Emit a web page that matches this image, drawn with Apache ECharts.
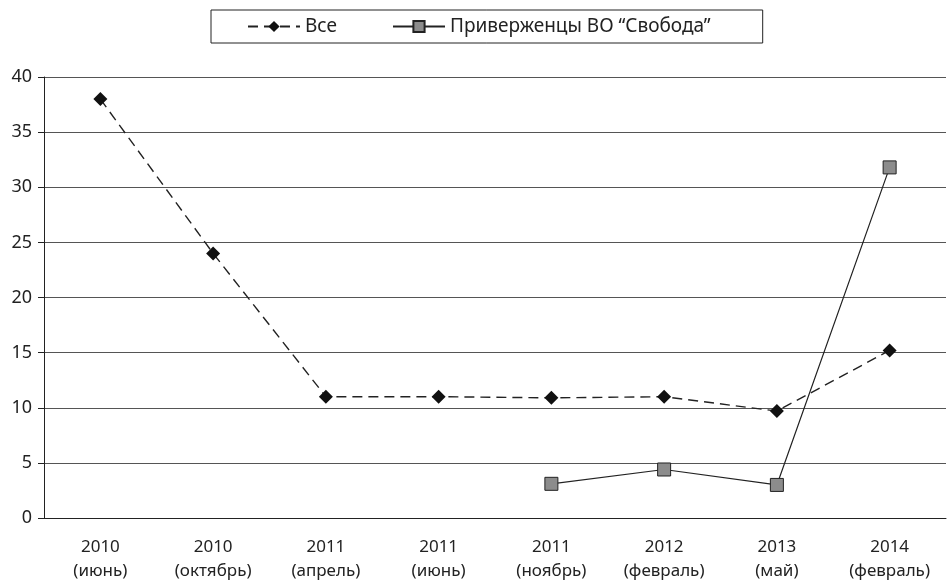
<!DOCTYPE html>
<html>
<head>
<meta charset="utf-8">
<script src="https://cdn.jsdelivr.net/npm/echarts@6/dist/echarts.min.js"></script>
<style>
  html, body { margin: 0; padding: 0; background: #fff; }
  #chart { width: 949px; height: 584px; }
</style>
</head>
<body>
<div id="chart"></div>
<script>
const categories = [
  '2010\n(июнь)', '2010\n(октябрь)', '2011\n(апрель)', '2011\n(июнь)',
  '2011\n(ноябрь)', '2012\n(февраль)', '2013\n(май)', '2014\n(февраль)'
];
const allValues = [38, 24, 11, 11, 10.9, 11, 9.7, 15.2];
const svobodaValues = [null, null, null, null, 3.1, 4.4, 3.0, 31.8];

const font = 'Noto Sans';
const chart = echarts.init(document.getElementById('chart'));

chart.setOption({
  animation: false,
  textStyle: { fontFamily: font, color: '#222' },
  legend: {
    top: 10,
    left: 211,
    padding: [7, 52, 7, 36],
    itemGap: 55,
    itemWidth: 52,
    itemHeight: 14,
    borderColor: '#222',
    borderWidth: 1,
    textStyle: { fontFamily: font, fontSize: 19, color: '#222' },
    data: ['Все', 'Приверженцы ВО “Свобода”']
  },
  grid: { left: 44, right: 3, top: 77, bottom: 66, containLabel: false },
  xAxis: {
    type: 'category',
    data: categories,
    boundaryGap: true,
    axisLine: { lineStyle: { color: '#222', width: 1 } },
    axisTick: { length: 6, lineStyle: { color: '#222' } },
    axisLabel: { fontFamily: font, fontSize: 17, color: '#222', lineHeight: 24, margin: 17 }
  },
  yAxis: {
    type: 'value',
    min: 0,
    max: 40,
    interval: 5,
    axisLine: { show: true, lineStyle: { color: '#222', width: 1 } },
    axisTick: { show: true, length: 6, lineStyle: { color: '#222' } },
    axisLabel: { fontFamily: font, fontSize: 18, color: '#222', margin: 12 },
    splitLine: { lineStyle: { color: '#555', width: 1 } }
  },
  series: [
    {
      name: 'Все',
      type: 'line',
      data: allValues,
      symbol: 'diamond',
      symbolSize: 14,
      itemStyle: { color: '#111' },
      lineStyle: { color: '#222', width: 1.4, type: [10, 6] }
    },
    {
      name: 'Приверженцы ВО “Свобода”',
      type: 'line',
      data: svobodaValues,
      symbol: 'rect',
      symbolSize: 13,
      connectNulls: false,
      itemStyle: { color: '#8c8c8c', borderColor: '#222', borderWidth: 1 },
      lineStyle: { color: '#222', width: 1.2 }
    }
  ]
});
</script>
</body>
</html>
